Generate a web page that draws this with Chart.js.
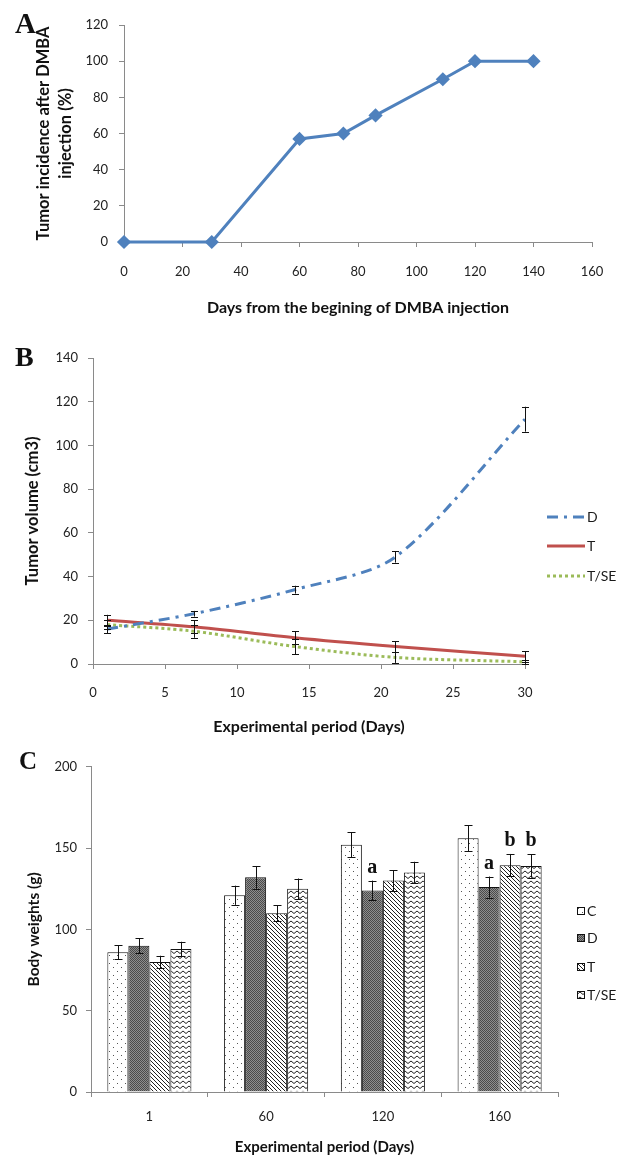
<!DOCTYPE html>
<html>
<head>
<meta charset="utf-8">
<script src="https://cdn.jsdelivr.net/npm/chart.js@4.4.1/dist/chart.umd.min.js"></script>
<style>
  html, body { margin: 0; padding: 0; background: #fff; }
  #wrap { position: relative; width: 627px; height: 1156px; background: #fff; overflow: hidden; }
  canvas.ch { position: absolute; left: 0; }
  .panel { position: absolute; font-family: "Liberation Serif", serif; font-weight: bold; line-height: 28px; color: #111; }
  .leg { position: absolute; font-family: Lato, sans-serif; font-size: 14px; color: #1a1a1a; line-height: 16px; display: flex; align-items: center; }
  .leg svg, .leg canvas { display: block; }
</style>
</head>
<body>
<div id="wrap">
  <canvas id="cA" class="ch" width="627" height="330" style="top:0"></canvas>
  <canvas id="cB" class="ch" width="627" height="420" style="top:330px"></canvas>
  <canvas id="cC" class="ch" width="627" height="406" style="top:750px"></canvas>
  <div class="panel" style="left:15px;top:9px;font-size:29px">A</div>
  <div class="panel" style="left:15px;top:343px;font-size:28px">B</div>
  <div class="panel" style="left:19px;top:747px;font-size:25px">C</div>
  <div id="legB"></div>
  <div id="legC"></div>
</div>
<script>
// ---------- DATA ----------
// Panel A
const daysA = [0, 30, 60, 75, 86, 109, 120, 140];
const incidenceA = [0, 0, 57, 60, 70, 90, 100, 100];
const xTicksA = [0, 160, 20];   // min, max, step
const yTicksA = [0, 120, 20];

// Panel B
const daysB = [1, 7, 14, 21, 30];
const seriesNamesB = ['D', 'T', 'T/SE'];
const volD = [16, 23, 34, 49, 112];
const volDErr = [2, 1.3, 1.8, 2.6, 5.7];
const volT = [20, 17, 12, 8, 3.5];
const volTErr = [2.5, 3, 3, 2.5, 2.4];
const volTSE = [18, 15, 8, 3, 1];
const volTSEErr = [2, 3, 3.5, 2.5, 1];
const xTicksB = [0, 30, 5];
const yTicksB = [0, 140, 20];

// Panel C
const periodsC = ['1', '60', '120', '160'];
const seriesNamesC = ['C', 'D', 'T', 'T/SE'];
const bwC = [86, 121, 152, 156];
const bwCErr = [4.3, 5.9, 7.7, 8];
const bwD = [90, 132, 124, 126];
const bwDErr = [4.5, 7, 6, 6.5];
const bwT = [80, 110, 130, 139.5];
const bwTErr = [3.8, 5, 6.5, 6.9];
const bwTSE = [88, 125, 135, 139];
const bwTSEErr = [4.4, 6.3, 6.6, 7.2];
const yTicksC = [0, 200, 50];
// significance letters: [category index, series index, letter]
const signifC = [[2, 1, 'a'], [3, 1, 'a'], [3, 2, 'b'], [3, 3, 'b']];

// ---------- STYLE ----------
const FONT = 'Lato, "Open Sans", sans-serif';
const AXIS_COL = '#8a8a8a';
const TICK_COL = '#222';
const BLUE = '#4F81BD', RED = '#C0504D', GREEN = '#9BBB59';

function makePattern(kind) {
  const c = document.createElement('canvas');
  let w = 8, h = 8;
  if (kind === 'dots') { w = 8; h = 8; }
  if (kind === 'checker') { w = 2; h = 2; }
  if (kind === 'diag') { w = 4; h = 4; }
  if (kind === 'zigzag') { w = 6; h = 5; }
  c.width = w; c.height = h;
  const x = c.getContext('2d');
  x.fillStyle = '#fff'; x.fillRect(0, 0, w, h);
  if (kind === 'dots') {
    x.fillStyle = '#555';
    x.fillRect(1, 1, 1, 1); x.fillRect(5, 5, 1, 1);
  } else if (kind === 'checker') {
    x.fillStyle = '#8e8e8e'; x.fillRect(0, 0, 2, 2);
    x.fillStyle = '#4a4a4a'; x.fillRect(0, 0, 1, 1); x.fillRect(1, 1, 1, 1);
  } else if (kind === 'diag') {
    x.fillStyle = '#222';
    for (let i = 0; i < 4; i++) x.fillRect(i, i, 1, 1);
  } else if (kind === 'zigzag') {
    x.strokeStyle = '#222'; x.lineWidth = 1;
    x.beginPath(); x.moveTo(0, 3.5); x.lineTo(3, 1); x.lineTo(6, 3.5); x.stroke();
  }
  return document.createElement('canvas').getContext('2d').createPattern(c, 'repeat');
}
const PATTERNS = ['dots', 'checker', 'diag', 'zigzag'];

// ---------- PLUGINS ----------
const errorBars = {
  id: 'errorBars',
  afterDatasetsDraw(chart, args, opts) {
    const ctx = chart.ctx;
    ctx.save();
    ctx.strokeStyle = '#111';
    ctx.lineWidth = 1;
    chart.data.datasets.forEach((ds, i) => {
      if (!ds.errors) return;
      const meta = chart.getDatasetMeta(i);
      const ys = chart.scales[meta.yAxisID];
      meta.data.forEach((el, j) => {
        const raw = ds.data[j];
        const v = (typeof raw === 'object') ? raw.y : raw;
        const e = ds.errors[j];
        const x = Math.round(el.x) + 0.5;
        const y1 = ys.getPixelForValue(v + e), y2 = ys.getPixelForValue(v - e);
        const cw = opts.cap || 3.5;
        ctx.beginPath();
        ctx.moveTo(x, y1); ctx.lineTo(x, y2);
        ctx.moveTo(x - cw, Math.round(y1) + 0.5); ctx.lineTo(x + cw, Math.round(y1) + 0.5);
        ctx.moveTo(x - cw, Math.round(y2) + 0.5); ctx.lineTo(x + cw, Math.round(y2) + 0.5);
        ctx.stroke();
      });
    });
    ctx.restore();
  }
};

const signifLetters = {
  id: 'signifLetters',
  afterDatasetsDraw(chart, args, opts) {
    if (!opts.items) return;
    const ctx = chart.ctx;
    ctx.save();
    ctx.font = 'bold 20px "Liberation Serif", serif';
    ctx.fillStyle = '#111';
    ctx.textAlign = 'center';
    ctx.textBaseline = 'alphabetic';
    const ys = chart.scales.y;
    opts.items.forEach(([ci, si, txt]) => {
      const ds = chart.data.datasets[si];
      const el = chart.getDatasetMeta(si).data[ci];
      const top = ys.getPixelForValue(ds.data[ci] + ds.errors[ci]);
      ctx.fillText(txt, el.x, top - 8);
    });
    ctx.restore();
  }
};

function yAxis(tk, width, title, titleSize, titlePadTop, tickPad, lineH) {
  return {
    type: 'linear', position: 'left', min: tk[0], max: tk[1],
    ticks: { stepSize: tk[2], color: TICK_COL, font: { family: FONT, size: 13 }, padding: tickPad },
    grid: { drawOnChartArea: false, drawTicks: true, tickLength: 5, color: AXIS_COL },
    border: { display: true, color: AXIS_COL, width: 1 },
    title: { display: true, text: title, color: '#111', font: { family: FONT, size: titleSize, weight: 'bold', lineHeight: lineH || 1.2 }, padding: { top: titlePadTop, bottom: 0 } },
    afterFit(s) { s.width = width; }
  };
}
function xAxisLinear(tk, height, title, titleSize, tickPad, titlePadBottom) {
  return {
    type: 'linear', position: 'bottom', min: tk[0], max: tk[1],
    ticks: { stepSize: tk[2], color: TICK_COL, font: { family: FONT, size: 13 }, padding: tickPad, maxRotation: 0 },
    grid: { drawOnChartArea: false, drawTicks: true, tickLength: 5, color: AXIS_COL },
    border: { display: true, color: AXIS_COL, width: 1 },
    title: { display: true, text: title, color: '#111', font: { family: FONT, size: titleSize, weight: 'bold' }, padding: { top: 0, bottom: titlePadBottom } },
    afterFit(s) { s.height = height; }
  };
}

const baseOpts = {
  responsive: false, animation: false, devicePixelRatio: 1,
  plugins: { legend: { display: false }, tooltip: { enabled: false } }
};

// ---------- CHART A ----------
new Chart(document.getElementById('cA'), {
  type: 'line',
  data: {
    datasets: [{
      label: 'Tumor incidence',
      data: daysA.map((d, i) => ({ x: d, y: incidenceA[i] })),
      borderColor: BLUE, backgroundColor: BLUE, borderWidth: 3,
      pointStyle: 'rectRot', pointRadius: 5, pointBackgroundColor: BLUE, pointBorderColor: BLUE,
      tension: 0, clip: false
    }]
  },
  options: Object.assign({}, baseOpts, {
    layout: { padding: { left: 0, right: 35, top: 25, bottom: 0 } },
    scales: {
      x: xAxisLinear(xTicksA, 88, 'Days from the begining of DMBA injection', 16, 17, 12.4),
      y: yAxis(yTicksA, 124, ['Tumor incidence after DMBA', 'injection (%)'], 16.5, 33, 11, 1.33)
    }
  })
});

// ---------- CHART B ----------
new Chart(document.getElementById('cB'), {
  type: 'line',
  data: {
    datasets: [
      { label: seriesNamesB[0], data: daysB.map((d, i) => ({ x: d, y: volD[i] })), errors: volDErr,
        borderColor: BLUE, borderWidth: 3, borderDash: [11, 6, 3, 6], pointRadius: 0, tension: 0.3, clip: false },
      { label: seriesNamesB[1], data: daysB.map((d, i) => ({ x: d, y: volT[i] })), errors: volTErr,
        borderColor: RED, borderWidth: 3, pointRadius: 0, tension: 0.3, clip: false },
      { label: seriesNamesB[2], data: daysB.map((d, i) => ({ x: d, y: volTSE[i] })), errors: volTSEErr,
        borderColor: GREEN, borderWidth: 3, borderDash: [3, 3], pointRadius: 0, tension: 0.3, clip: false }
    ]
  },
  options: Object.assign({}, baseOpts, {
    layout: { padding: { left: 0, right: 102, top: 28, bottom: 0 } },
    plugins: { legend: { display: false }, tooltip: { enabled: false }, errorBars: { cap: 3.5 } },
    scales: {
      x: xAxisLinear(xTicksB, 86, 'Experimental period (Days)', 16, 16, 13.4),
      y: yAxis(yTicksB, 93, 'Tumor volume (cm3)', 16.5, 23, 10)
    }
  }),
  plugins: [errorBars]
});

// ---------- CHART C ----------
const valsC = [bwC, bwD, bwT, bwTSE];
const errsC = [bwCErr, bwDErr, bwTErr, bwTSEErr];
new Chart(document.getElementById('cC'), {
  type: 'bar',
  data: {
    labels: periodsC,
    datasets: seriesNamesC.map((n, i) => ({
      label: n, data: valsC[i], errors: errsC[i],
      backgroundColor: makePattern(PATTERNS[i]), borderColor: '#111', borderWidth: 1,
      categoryPercentage: 0.72, barPercentage: 1
    }))
  },
  options: Object.assign({}, baseOpts, {
    layout: { padding: { left: 0, right: 69, top: 10, bottom: 0 } },
    plugins: { legend: { display: false }, tooltip: { enabled: false }, errorBars: { cap: 4 }, signifLetters: { items: signifC } },
    scales: {
      x: {
        type: 'category', position: 'bottom',
        ticks: { color: TICK_COL, font: { family: FONT, size: 13 }, padding: 12 },
        grid: { drawOnChartArea: false, drawTicks: true, tickLength: 5, color: AXIS_COL, offset: true },
        border: { display: true, color: AXIS_COL, width: 1 },
        title: { display: true, text: 'Experimental period (Days)', color: '#111', font: { family: FONT, size: 15, weight: 'bold' }, padding: { top: 0, bottom: 0 } },
        afterFit(s) { s.height = 64; }
      },
      y: yAxis(yTicksC, 91, 'Body weights (g)', 15.5, 24.7, 9)
    }
  }),
  plugins: [errorBars, signifLetters]
});

// ---------- LEGENDS ----------
(function () {
  const wrap = document.getElementById('wrap');
  const legBStyles = [
    { color: BLUE, dash: '11 6 3 6' },
    { color: RED, dash: '' },
    { color: GREEN, dash: '3 3' }
  ];
  const legBY = [517, 546, 576];
  seriesNamesB.forEach((n, i) => {
    const d = document.createElement('div');
    d.className = 'leg';
    d.style.left = '547px';
    d.style.top = (legBY[i] - 8) + 'px';
    d.innerHTML = '<svg width="38" height="8"><line x1="0" y1="4" x2="38" y2="4" stroke="' + legBStyles[i].color +
      '" stroke-width="3"' + (legBStyles[i].dash ? ' stroke-dasharray="' + legBStyles[i].dash + '"' : '') + '/></svg>' +
      '<span style="margin-left:2px">' + n + '</span>';
    wrap.appendChild(d);
  });
  const legCY = [911, 938, 967, 995];
  seriesNamesC.forEach((n, i) => {
    const d = document.createElement('div');
    d.className = 'leg';
    d.style.left = '577px';
    d.style.top = (legCY[i] - 8) + 'px';
    const cv = document.createElement('canvas');
    cv.width = 8; cv.height = 8;
    const cx = cv.getContext('2d');
    cx.fillStyle = makePattern(PATTERNS[i]); cx.fillRect(0, 0, 8, 8);
    cx.strokeStyle = '#111'; cx.lineWidth = 1; cx.strokeRect(0.5, 0.5, 7, 7);
    d.appendChild(cv);
    const sp = document.createElement('span');
    sp.style.marginLeft = '2px';
    sp.textContent = n;
    d.appendChild(sp);
    wrap.appendChild(d);
  });
})();
</script>
</body>
</html>
